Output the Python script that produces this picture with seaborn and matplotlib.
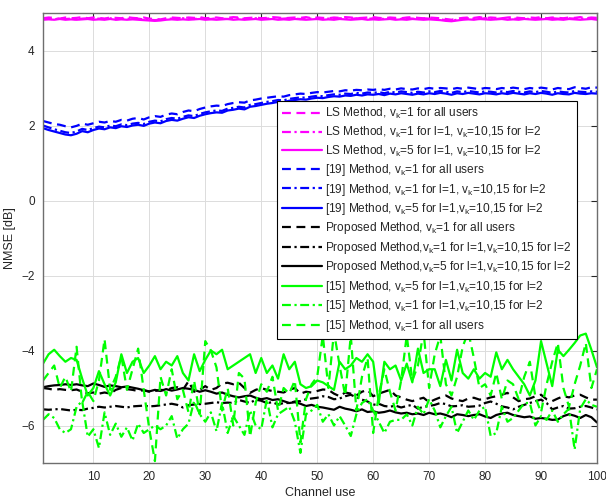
import numpy as np
import pandas as pd
import matplotlib
matplotlib.use("Agg")
import matplotlib.pyplot as plt
import seaborn as sns

# ---------------- data ----------------
channel_use = list(range(1, 101))

ls_all = [4.86,4.88,4.87,4.85,4.88,4.86,4.87,4.89,4.86,4.88, 4.87,4.85,4.88,4.87,4.86,4.89,4.87,4.86,4.88,4.85,
          4.84,4.83,4.86,4.88,4.87,4.86,4.88,4.87,4.89,4.86, 4.87,4.88,4.86,4.87,4.89,4.88,4.86,4.87,4.88,4.86,
          4.87,4.89,4.88,4.86,4.87,4.88,4.87,4.89,4.86,4.88, 4.87,4.86,4.88,4.87,4.89,4.88,4.86,4.87,4.88,4.89,
          4.87,4.86,4.88,4.87,4.86,4.88,4.89,4.87,4.86,4.88, 4.87,4.86,4.84,4.82,4.85,4.87,4.88,4.87,4.89,4.86,
          4.88,4.87,4.86,4.88,4.89,4.87,4.86,4.88,4.87,4.89, 4.86,4.88,4.87,4.86,4.88,4.87,4.89,4.86,4.88,4.87]
ls_mix1 = [4.84,4.85,4.83,4.86,4.84,4.85,4.83,4.85,4.86,4.84, 4.85,4.84,4.86,4.83,4.85,4.84,4.86,4.85,4.83,4.82,
           4.81,4.82,4.84,4.85,4.84,4.86,4.85,4.84,4.86,4.85, 4.84,4.86,4.85,4.84,4.85,4.86,4.84,4.85,4.86,4.84,
           4.85,4.86,4.84,4.85,4.86,4.85,4.84,4.86,4.85,4.84, 4.86,4.85,4.84,4.86,4.85,4.84,4.86,4.85,4.84,4.86,
           4.85,4.84,4.86,4.85,4.84,4.86,4.85,4.84,4.86,4.85, 4.84,4.83,4.81,4.80,4.82,4.84,4.86,4.85,4.84,4.86,
           4.85,4.84,4.86,4.85,4.84,4.86,4.85,4.84,4.86,4.85, 4.84,4.86,4.85,4.84,4.86,4.85,4.84,4.86,4.85,4.84]
ls_mix5 = [4.82,4.83,4.82,4.84,4.82,4.83,4.82,4.83,4.84,4.82, 4.83,4.82,4.84,4.82,4.83,4.82,4.83,4.82,4.81,4.80,
           4.79,4.80,4.82,4.83,4.82,4.83,4.82,4.83,4.84,4.82, 4.83,4.82,4.83,4.84,4.82,4.83,4.82,4.83,4.84,4.82,
           4.83,4.84,4.82,4.83,4.82,4.84,4.83,4.82,4.83,4.84, 4.82,4.83,4.82,4.84,4.83,4.82,4.83,4.84,4.82,4.83,
           4.82,4.83,4.84,4.82,4.83,4.82,4.84,4.83,4.82,4.83, 4.82,4.81,4.79,4.78,4.80,4.82,4.83,4.82,4.84,4.83,
           4.82,4.83,4.84,4.82,4.83,4.82,4.84,4.83,4.82,4.83, 4.84,4.82,4.83,4.82,4.84,4.83,4.82,4.83,4.84,4.82]

ref19_all = [2.12,2.08,2.04,2.02,1.98,1.95,1.99,2.05,2.02,2.06, 2.10,2.08,2.12,2.10,2.15,2.13,2.18,2.20,2.16,2.22,
             2.25,2.23,2.29,2.32,2.30,2.36,2.40,2.38,2.44,2.48, 2.51,2.53,2.52,2.57,2.60,2.62,2.61,2.67,2.69,2.72,
             2.74,2.76,2.78,2.77,2.81,2.83,2.85,2.84,2.87,2.89, 2.88,2.90,2.92,2.91,2.94,2.93,2.95,2.94,2.96,2.95,
             2.97,2.95,2.98,2.96,2.99,2.97,2.96,2.99,2.97,3.00, 2.98,3.00,2.99,2.97,3.00,2.98,3.01,2.99,2.97,3.00,
             2.99,2.97,3.00,2.98,3.01,2.99,2.97,3.00,2.98,3.01, 2.99,2.96,3.00,2.98,2.97,3.02,3.00,2.98,3.02,3.01]
ref19_mix1 = [2.00,1.95,1.90,1.86,1.82,1.80,1.84,1.91,1.88,1.93, 1.97,1.95,2.00,1.98,2.03,2.01,2.05,2.07,2.04,2.10,
              2.13,2.11,2.17,2.20,2.18,2.23,2.27,2.25,2.31,2.35, 2.38,2.40,2.39,2.45,2.47,2.50,2.48,2.55,2.57,2.60,
              2.63,2.65,2.68,2.67,2.71,2.73,2.75,2.74,2.77,2.79, 2.78,2.81,2.83,2.82,2.85,2.84,2.87,2.85,2.88,2.87,
              2.89,2.86,2.90,2.88,2.91,2.89,2.87,2.90,2.88,2.91, 2.89,2.92,2.90,2.87,2.91,2.89,2.92,2.90,2.88,2.91,
              2.90,2.88,2.91,2.89,2.92,2.90,2.88,2.91,2.89,2.92, 2.90,2.87,2.91,2.89,2.88,2.92,2.90,2.89,2.91,2.90]
ref19_mix5 = [1.93,1.88,1.84,1.80,1.76,1.74,1.78,1.85,1.82,1.88, 1.92,1.90,1.95,1.93,1.98,1.96,2.00,2.02,1.99,2.05,
              2.08,2.06,2.12,2.15,2.13,2.18,2.22,2.20,2.26,2.30, 2.33,2.35,2.34,2.40,2.42,2.45,2.43,2.50,2.52,2.55,
              2.58,2.60,2.63,2.62,2.66,2.68,2.70,2.69,2.72,2.74, 2.73,2.76,2.78,2.77,2.80,2.79,2.82,2.80,2.83,2.82,
              2.84,2.81,2.85,2.83,2.86,2.84,2.82,2.85,2.83,2.86, 2.84,2.87,2.85,2.82,2.86,2.84,2.87,2.85,2.83,2.86,
              2.85,2.83,2.86,2.84,2.87,2.85,2.83,2.86,2.84,2.87, 2.85,2.82,2.86,2.84,2.83,2.87,2.85,2.84,2.86,2.85]

prop_all = [-5.00,-5.02,-5.05,-5.03,-5.05,-5.06,-5.04,-5.10,-5.14,-5.12, -5.15,-5.12,-5.15,-5.05,-5.00,-5.03,-5.05,-5.08,-5.06,-5.10,
            -5.08,-5.05,-5.06,-5.00,-4.98,-5.05,-4.82,-5.10,-5.05,-4.95, -5.05,-5.00,-4.88,-4.86,-4.90,-4.86,-5.00,-5.13,-5.05,-5.00,
            -5.05,-5.08,-5.10,-5.12,-5.05,-5.00,-5.15,-5.10,-5.12,-5.08, -5.04,-5.05,-5.15,-5.22,-5.12,-5.15,-5.20,-5.10,-5.05,-5.22,
            -5.15,-5.10,-5.05,-5.20,-5.25,-5.31,-5.35,-5.30,-5.26,-5.38, -5.31,-5.25,-5.20,-5.28,-5.32,-5.35,-5.28,-5.26,-5.31,-5.30,
            -5.25,-5.22,-5.18,-5.13,-5.25,-5.35,-5.30,-5.28,-5.22,-5.18, -5.30,-5.35,-5.28,-5.22,-5.25,-5.20,-5.18,-5.25,-5.31,-5.31]
prop_mix1 = [-5.57,-5.58,-5.57,-5.56,-5.58,-5.60,-5.58,-5.59,-5.55,-5.53, -5.50,-5.52,-5.50,-5.48,-5.50,-5.52,-5.49,-5.48,-5.47,-5.49,
             -5.48,-5.46,-5.44,-5.42,-5.45,-5.52,-5.46,-5.44,-5.43,-5.42, -5.40,-5.38,-5.40,-5.39,-5.40,-5.32,-5.36,-5.40,-5.31,-5.34,
             -5.40,-5.38,-5.44,-5.40,-5.40,-5.36,-5.35,-5.30,-5.28,-5.26, -5.22,-5.24,-5.30,-5.28,-5.22,-5.18,-5.25,-5.31,-5.36,-5.45,
             -5.42,-5.48,-5.50,-5.47,-5.52,-5.48,-5.45,-5.55,-5.50,-5.48, -5.45,-5.40,-5.43,-5.49,-5.48,-5.46,-5.50,-5.49,-5.47,-5.40,
             -5.36,-5.42,-5.49,-5.52,-5.57,-5.50,-5.45,-5.40,-5.35,-5.31, -5.40,-5.57,-5.52,-5.48,-5.55,-5.54,-5.50,-5.48,-5.52,-5.57]
prop_mix5 = [-4.98,-4.95,-4.93,-4.92,-4.90,-4.92,-4.90,-4.93,-4.95,-4.88, -4.92,-4.97,-4.93,-4.95,-4.98,-4.96,-4.99,-5.02,-5.06,-5.09,
             -5.05,-5.08,-5.03,-5.07,-5.04,-5.00,-5.02,-5.05,-5.10,-5.06, -5.10,-5.15,-5.12,-5.18,-5.22,-5.25,-5.22,-5.20,-5.26,-5.30,
             -5.27,-5.32,-5.30,-5.35,-5.40,-5.38,-5.42,-5.48,-5.45,-5.50, -5.52,-5.55,-5.58,-5.50,-5.55,-5.58,-5.62,-5.57,-5.64,-5.62,
             -5.66,-5.64,-5.60,-5.65,-5.68,-5.66,-5.70,-5.68,-5.72,-5.66, -5.70,-5.68,-5.72,-5.78,-5.70,-5.72,-5.75,-5.72,-5.70,-5.76,
             -5.80,-5.72,-5.68,-5.66,-5.72,-5.75,-5.78,-5.76,-5.82,-5.80, -5.82,-5.85,-5.84,-5.75,-5.70,-5.74,-5.80,-5.72,-5.78,-5.92]

ref15_mix5 = [-4.35,-4.10,-3.98,-4.15,-4.30,-4.20,-4.25,-4.75,-5.20,-5.00, -4.55,-4.90,-5.20,-4.85,-4.10,-4.60,-4.30,-4.20,-4.60,-4.40,
              -4.15,-4.50,-4.30,-4.40,-4.15,-4.60,-4.80,-4.10,-4.55,-4.25, -4.00,-4.10,-3.98,-4.50,-4.40,-4.30,-4.20,-4.10,-4.60,-4.20,
              -4.60,-4.40,-4.75,-4.10,-4.50,-4.30,-4.90,-5.00,-4.95,-4.80, -4.85,-4.95,-5.05,-4.30,-4.50,-4.40,-4.20,-4.30,-4.10,-4.30,
              -5.40,-4.30,-4.50,-4.40,-4.80,-4.35,-4.85,-3.95,-4.60,-4.50, -4.50,-4.95,-4.25,-4.80,-3.98,-4.60,-4.75,-4.50,-4.75,-4.60,
              -4.70,-4.05,-4.50,-4.25,-4.50,-4.70,-4.90,-5.20,-4.80,-3.75, -4.35,-4.95,-3.98,-4.15,-3.98,-3.80,-3.60,-3.55,-3.98,-4.45]
ref15_mix1 = [-5.85,-5.70,-5.80,-6.10,-6.20,-6.10,-5.50,-5.35,-6.30,-6.10, -6.60,-5.65,-6.25,-5.95,-6.30,-6.05,-6.40,-5.95,-6.20,-6.10,
              -6.00,-6.10,-6.00,-5.75,-6.35,-6.10,-5.95,-5.35,-5.70,-5.90, -5.65,-6.15,-5.40,-6.20,-5.75,-6.00,-6.25,-5.60,-6.00,-6.10,
              -5.30,-6.05,-5.70,-5.60,-5.50,-5.90,-6.73,-5.70,-5.60,-5.45, -5.90,-5.70,-6.00,-5.75,-6.00,-6.28,-5.70,-5.40,-5.30,-5.60,
              -5.90,-6.20,-5.90,-5.85,-5.85,-5.70,-6.00,-5.50,-5.70,-5.30, -5.60,-6.05,-5.75,-5.50,-6.20,-5.90,-5.60,-5.85,-5.60,-5.50,
              -6.28,-6.20,-5.50,-5.90,-5.80,-5.60,-5.40,-5.40,-6.00,-5.75, -5.85,-5.60,-5.90,-5.70,-5.55,-6.64,-5.55,-5.30,-5.45,-5.50]
ref15_all = [-4.80,-4.60,-4.40,-5.00,-4.70,-5.10,-3.90,-5.40,-5.10,-5.35, -4.80,-3.70,-5.05,-4.70,-4.15,-5.05,-4.50,-3.95,-5.05,-6.10,
             -6.95,-4.70,-5.20,-4.50,-5.30,-5.05,-5.65,-4.80,-5.70,-3.75, -4.00,-4.45,-5.60,-5.00,-6.00,-4.60,-4.75,-6.30,-5.40,-4.90,
             -5.10,-4.70,-5.60,-5.00,-5.15,-4.80,-6.45,-5.30,-4.90,-4.70, -3.60,-5.00,-3.50,-4.40,-5.20,-3.60,-5.60,-4.70,-4.20,-6.20,
             -5.20,-4.50,-5.10,-5.60,-4.80,-3.60,-4.80,-4.40,-3.50,-5.00, -4.10,-3.60,-4.90,-5.20,-4.70,-3.90,-3.50,-4.20,-5.00,-4.90,
             -5.20,-4.60,-5.30,-4.80,-4.90,-5.30,-4.70,-4.30,-5.25,-5.65, -4.90,-4.30,-3.80,-5.00,-5.50,-4.90,-4.40,-3.80,-5.00,-4.50]

K = r"v$_{\mathrm{k}}$"
labels = [
    f"LS Method, {K}=1 for all users",
    f"LS Method, {K}=1 for l=1, {K}=10,15 for l=2",
    f"LS Method, {K}=5 for l=1, {K}=10,15 for l=2",
    f"[19] Method, {K}=1 for all users",
    f"[19] Method, {K}=1 for l=1, {K}=10,15 for l=2",
    f"[19] Method, {K}=5 for l=1,{K}=10,15 for l=2",
    f"Proposed Method, {K}=1 for all users",
    f"Proposed Method,{K}=1 for l=1,{K}=10,15 for l=2",
    f"Proposed Method,{K}=5 for l=1,{K}=10,15 for l=2",
    f"[15] Method, {K}=5 for l=1,{K}=10,15 for l=2",
    f"[15] Method, {K}=1 for l=1,{K}=10,15 for l=2",
    f"[15] Method, {K}=1 for all users",
]
series = [ls_all, ls_mix1, ls_mix5, ref19_all, ref19_mix1, ref19_mix5,
          prop_all, prop_mix1, prop_mix5, ref15_mix5, ref15_mix1, ref15_all]

# ---------------- styling ----------------
MAG, BLU, BLK, GRN = "#ff00ff", "#0000ff", "#000000", "#00ff00"
DASH = (0, (4, 2.5))
DDOT = (0, (4, 1.6, 1, 1.6))
SOLID = "-"
styles = [(MAG, DASH), (MAG, DDOT), (MAG, SOLID),
          (BLU, DASH), (BLU, DDOT), (BLU, SOLID),
          (BLK, DASH), (BLK, DDOT), (BLK, SOLID),
          (GRN, SOLID), (GRN, DDOT), (GRN, DASH)]

sns.set_theme(style="white")
plt.rcParams["font.family"] = ["Liberation Sans", "DejaVu Sans"]
plt.rcParams["mathtext.fontset"] = "custom"
plt.rcParams["mathtext.rm"] = "Liberation Sans"
plt.rcParams["mathtext.it"] = "Liberation Sans:italic"

fig = plt.figure(figsize=(6.06, 4.99), dpi=100)
ax = fig.add_axes([43 / 606, 36 / 499, 554 / 606, 450 / 499])

for lab, vals, (col, ls) in zip(labels, series, styles):
    sns.lineplot(x=channel_use, y=vals, ax=ax, color=col, linestyle=ls,
                 linewidth=1.6, label=lab, estimator=None, sort=False)

ax.set_xlim(1, 100)
ax.set_ylim(-7, 5)
ax.set_xticks([10, 20, 30, 40, 50, 60, 70, 80, 90, 100])
ax.set_yticks([-6, -4, -2, 0, 2, 4])
ax.grid(True, color="#dcdcdc", linewidth=0.7)
ax.set_axisbelow(True)
for sp in ax.spines.values():
    sp.set_visible(True)
    sp.set_color("#6e6e6e")
    sp.set_linewidth(1.0)
ax.tick_params(direction="in", top=True, right=True, length=4, width=0.8,
               colors="#262626", labelsize=8.5, pad=6)
ax.set_xlabel("Channel use", fontsize=9, labelpad=3)
ax.set_ylabel("NMSE [dB]", fontsize=9, labelpad=4)

leg = ax.legend(loc="upper left", bbox_to_anchor=(234 / 554, 362 / 450),
                borderaxespad=0, fontsize=8.6, frameon=True, fancybox=False,
                framealpha=1, edgecolor="black", handlelength=3.3,
                handletextpad=0.3, labelspacing=0.29, borderpad=0.45)
leg.get_frame().set_linewidth(0.8)

fig.savefig("out.png", dpi=100)
